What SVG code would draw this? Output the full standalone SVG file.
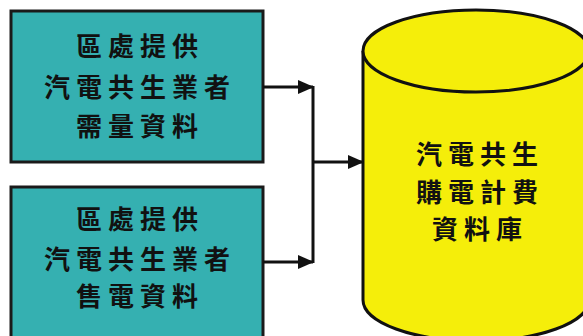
<svg xmlns="http://www.w3.org/2000/svg" width="583" height="336" viewBox="0 0 583 336">
<style>
.box{fill:#35b0b1;stroke:#1a1a1a;stroke-width:3}
.db{fill:#f5ee0a;stroke:#111;stroke-width:3}
.t{font-family:"Noto Sans CJK TC","Noto Sans CJK SC",sans-serif;font-size:26px;font-weight:700;fill:#111;text-anchor:middle;letter-spacing:6px}
.c{fill:none;stroke:#111;stroke-width:3}
</style>
<defs>
<marker id="ah" markerWidth="16" markerHeight="14" refX="15" refY="7" orient="auto" markerUnits="userSpaceOnUse">
<path d="M0,0 L16,7 L0,14 Z" fill="#111"/>
</marker>
</defs>
<rect width="583" height="336" fill="#fff"/>
<g id="n1">
<rect class="box" x="11" y="11" width="252" height="151"/>
<text class="t" x="140" y="56">區處提供</text>
<text class="t" x="140" y="97">汽電共生業者</text>
<text class="t" x="140" y="136">需量資料</text>
</g>
<g id="n2">
<rect class="box" x="11" y="187" width="252" height="160" stroke-width="1.5"/>
<text class="t" x="140" y="229">區處提供</text>
<text class="t" x="140" y="269">汽電共生業者</text>
<text class="t" x="140" y="306">售電資料</text>
</g>
<g id="db">
<path class="db" d="M363,51 L363,300 A113,41 0 0 0 589,300 L589,51"/>
<ellipse class="db" cx="476" cy="51" rx="113" ry="41"/>
<text class="t" x="480" y="164">汽電共生</text>
<text class="t" x="480" y="202">購電計費</text>
<text class="t" x="480" y="239">資料庫</text>
</g>
<g id="connectors">
<line class="c" x1="263" y1="87" x2="313" y2="87" marker-end="url(#ah)"/>
<line class="c" x1="263" y1="262" x2="313" y2="262" marker-end="url(#ah)"/>
<line class="c" x1="313" y1="86" x2="313" y2="263"/>
<line class="c" x1="313" y1="162" x2="363" y2="162" marker-end="url(#ah)"/>
</g>
</svg>
